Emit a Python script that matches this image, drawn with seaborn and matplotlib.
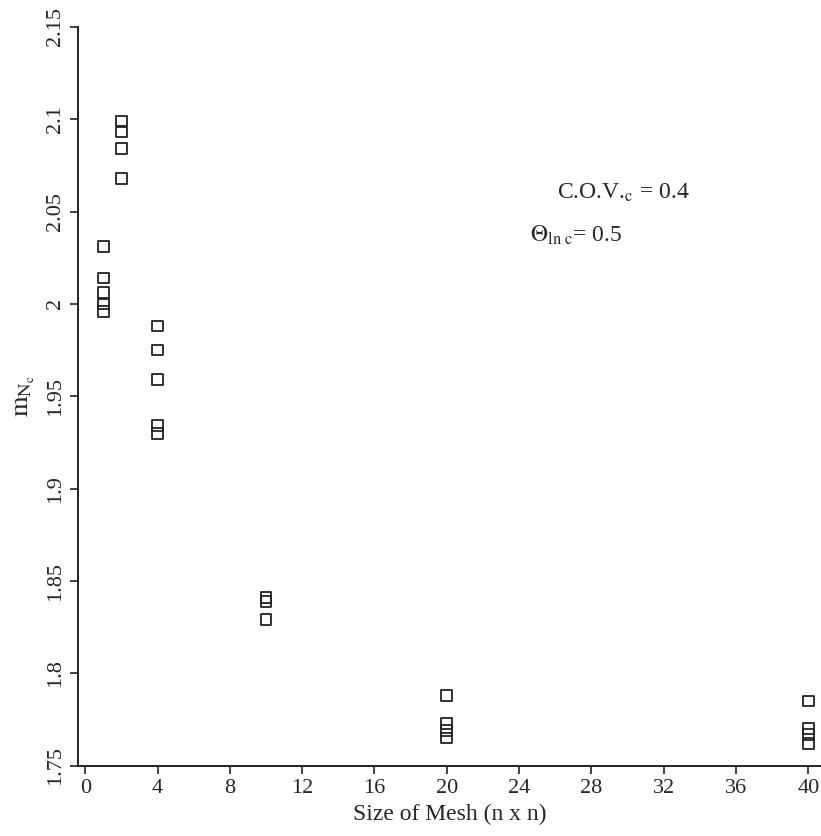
import pandas as pd
import numpy as np
import matplotlib.pyplot as plt
import seaborn as sns

# Данные
mesh_1 = [1, 1, 1, 1, 1]
vals_1 = [2.031, 2.014, 2.006, 2.000, 1.996]
mesh_2 = [2, 2, 2, 2]
vals_2 = [2.099, 2.093, 2.084, 2.068]
mesh_4 = [4, 4, 4, 4, 4]
vals_4 = [1.988, 1.975, 1.959, 1.934, 1.930]
mesh_10 = [10, 10, 10]
vals_10 = [1.841, 1.839, 1.829]
mesh_20 = [20, 20, 20, 20]
vals_20 = [1.788, 1.773, 1.769, 1.765]
mesh_40 = [40, 40, 40, 40]
vals_40 = [1.785, 1.770, 1.767, 1.762]

y_ticks = [1.75, 1.8, 1.85, 1.9, 1.95, 2.0, 2.05, 2.1, 2.15]
y_labels = ['1.75', '1.8', '1.85', '1.9', '1.95', '2', '2.05', '2.1', '2.15']
x_ticks = [0, 4, 8, 12, 16, 20, 24, 28, 32, 36, 40]

df = pd.DataFrame({
    'mesh': mesh_1 + mesh_2 + mesh_4 + mesh_10 + mesh_20 + mesh_40,
    'm': vals_1 + vals_2 + vals_4 + vals_10 + vals_20 + vals_40,
})

sns.set_style('ticks')
plt.rcParams['font.family'] = ['Liberation Serif', 'DejaVu Serif']
plt.rcParams['mathtext.fontset'] = 'stix'

fig = plt.figure(figsize=(8.21, 8.36), dpi=100)
ax = fig.add_axes([0.095, 0.084, 0.905, 0.884])

sns.scatterplot(data=df, x='mesh', y='m', marker='s', s=60,
                facecolor='none', edgecolor='#222222', linewidth=1.3, ax=ax)

ax.set_xlim(-0.4, 40.7)
ax.set_ylim(1.75, 2.15)
ax.set_xticks(x_ticks)
ax.set_xticklabels([str(t) for t in x_ticks], fontsize=16)
ax.set_yticks(y_ticks)
ax.set_yticklabels(y_labels, fontsize=16, rotation=90, va='center')
ax.tick_params(direction='out', length=6, width=1.2, color='#222222')

ax.set_xlabel('Size of Mesh (n x n)', fontsize=17, labelpad=4)
ax.set_ylabel(r'$\mathrm{m}_{\mathrm{N}_\mathrm{c}}$', fontsize=19, labelpad=6)

sns.despine(ax=ax)
for sp in ['left', 'bottom']:
    ax.spines[sp].set_linewidth(1.4)
    ax.spines[sp].set_color('#222222')

ax.text(26.1, 2.060, r'C.O.V.$_{\mathrm{c}}$ = 0.4', fontsize=17, va='center')
ax.text(24.6, 2.037, r'$\Theta_{\mathrm{ln\ c}}$= 0.5', fontsize=17, va='center')

fig.savefig('out.png', dpi=100, facecolor='white')
